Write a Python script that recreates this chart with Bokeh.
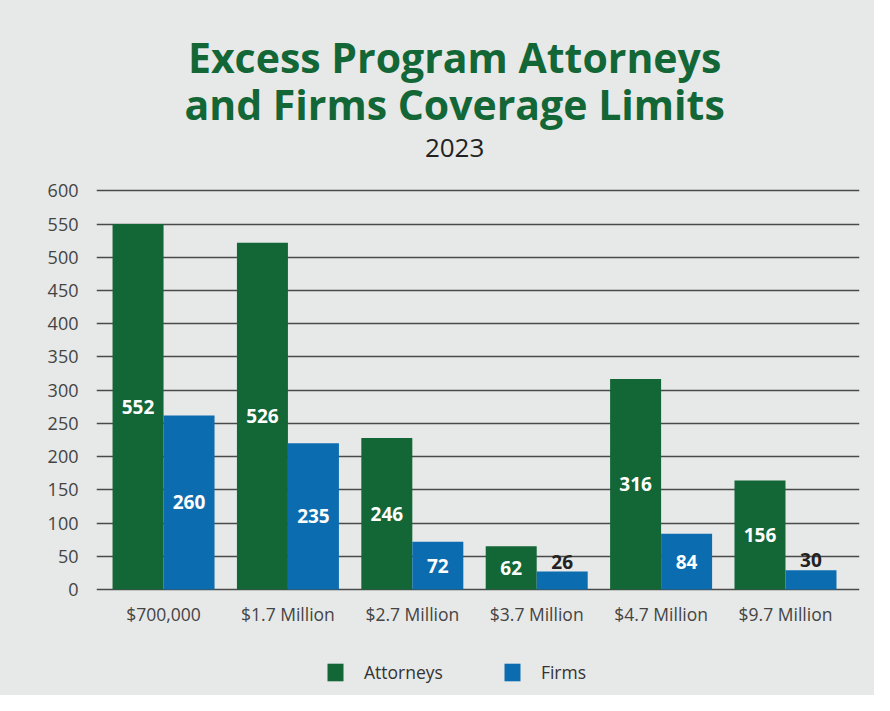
from bokeh.plotting import figure
from bokeh.models import Range1d, FixedTicker, ColumnDataSource, Legend, LegendItem, LabelSet, Label
from bokeh.core.properties import value
from bokeh.embed import file_html
from bokeh.resources import INLINE

categories = ["$700,000", "$1.7 Million", "$2.7 Million", "$3.7 Million", "$4.7 Million", "$9.7 Million"]
attorneys_bar = [550, 522, 228, 65, 317, 164]
firms_bar = [262, 220, 72, 27, 84, 29]
attorneys_label = ["552", "526", "246", "62", "316", "156"]
firms_label = ["260", "235", "72", "26", "84", "30"]
firms_label_outside = [False, False, False, True, False, True]
y_ticks = [0, 50, 100, 150, 200, 250, 300, 350, 400, 450, 500, 550, 600]

GREEN = "#136636"
BLUE = "#0c6cb0"
BG = "#e7e9e8"
FONT = "Open Sans"

xs = [i + 0.5 for i in range(len(categories))]
bw = 0.41
PX = 0.6644  # pixels per data unit (vertical)

p = figure(width=874, height=695, output_backend="svg", toolbar_location=None,
           x_range=Range1d(-0.039, 6.095), y_range=Range1d(-(695 - 589) / PX, 589 / PX),
           min_border_left=96, min_border_right=15, min_border_top=0, min_border_bottom=0,
           background_fill_color=None, border_fill_color=None, outline_line_color=None)
p.styles = {"background-color": BG}

src_a = ColumnDataSource(dict(x=[x - bw / 2 for x in xs], top=attorneys_bar,
                              ly=[v / 2 for v in attorneys_bar], lab=attorneys_label))
src_f = ColumnDataSource(dict(x=[x + bw / 2 for x in xs], top=firms_bar))
src_f_in = ColumnDataSource(dict(
    x=[x + bw / 2 for x, o in zip(xs, firms_label_outside) if not o],
    ly=[v / 2 for v, o in zip(firms_bar, firms_label_outside) if not o],
    lab=[l for l, o in zip(firms_label, firms_label_outside) if not o]))
src_f_out = ColumnDataSource(dict(
    x=[x + bw / 2 for x, o in zip(xs, firms_label_outside) if o],
    ly=[v for v, o in zip(firms_bar, firms_label_outside) if o],
    lab=[l for l, o in zip(firms_label, firms_label_outside) if o]))
src_cat = ColumnDataSource(dict(x=xs, y=[-47] * len(xs), lab=categories))

ra = p.vbar(x="x", top="top", width=bw, bottom=0, source=src_a, color=GREEN, line_color=None)
rf = p.vbar(x="x", top="top", width=bw, bottom=0, source=src_f, color=BLUE, line_color=None)

common = dict(text_font=value(FONT), text_font_style="bold", text_font_size="19px",
              text_align="center")
p.add_layout(LabelSet(x="x", y="ly", text="lab", source=src_a, text_color="white",
                      text_baseline="middle", **common))
p.add_layout(LabelSet(x="x", y="ly", text="lab", source=src_f_in, text_color="white",
                      text_baseline="middle", **common))
p.add_layout(LabelSet(x="x", y="ly", text="lab", source=src_f_out, text_color="#222222",
                      text_baseline="bottom", y_offset=3, **common))

# category (x) labels
p.add_layout(LabelSet(x="x", y="y", text="lab", source=src_cat, text_color="#444444",
                      text_font=value(FONT), text_font_size="17.5px", text_align="center",
                      text_baseline="alphabetic"))
p.xaxis.visible = False

p.yaxis.ticker = FixedTicker(ticks=y_ticks)
p.yaxis.axis_line_color = None
p.yaxis.major_tick_line_color = None
p.yaxis.minor_tick_line_color = None
p.yaxis.major_label_text_font = FONT
p.yaxis.major_label_text_font_size = "18px"
p.yaxis.major_label_text_color = "#444444"
p.yaxis.major_label_standoff = 12

p.xgrid.grid_line_color = None
p.ygrid.ticker = FixedTicker(ticks=y_ticks)
p.ygrid.grid_line_color = "#4a4a4a"
p.ygrid.grid_line_width = 1.3

# titles
tx = 2.84
p.add_layout(Label(x=tx, y=(589 - 56) / PX, text="Excess Program Attorneys", text_font=FONT,
                   text_font_style="bold", text_font_size="41px", text_color=GREEN,
                   text_align="center", text_baseline="alphabetic"))
p.add_layout(Label(x=tx, y=(589 - 103) / PX, text="and Firms Coverage Limits", text_font=FONT,
                   text_font_style="bold", text_font_size="41px", text_color=GREEN,
                   text_align="center", text_baseline="alphabetic"))
p.add_layout(Label(x=tx, y=(589 - 147) / PX, text="2023", text_font=FONT,
                   text_font_size="26px", text_color="#222222",
                   text_align="center", text_baseline="alphabetic"))

legend = Legend(items=[LegendItem(label="Attorneys", renderers=[ra]),
                       LegendItem(label="Firms", renderers=[rf])],
                orientation="horizontal", location=(229, 11),
                glyph_width=20, glyph_height=22, label_standoff=19, spacing=59,
                padding=0, margin=0, background_fill_alpha=0, border_line_color=None,
                label_text_font=FONT, label_text_font_size="17.5px", label_text_color="#333333",
                label_height=22)
p.add_layout(legend, "center")

open("out.html", "w").write(file_html(p, INLINE))
